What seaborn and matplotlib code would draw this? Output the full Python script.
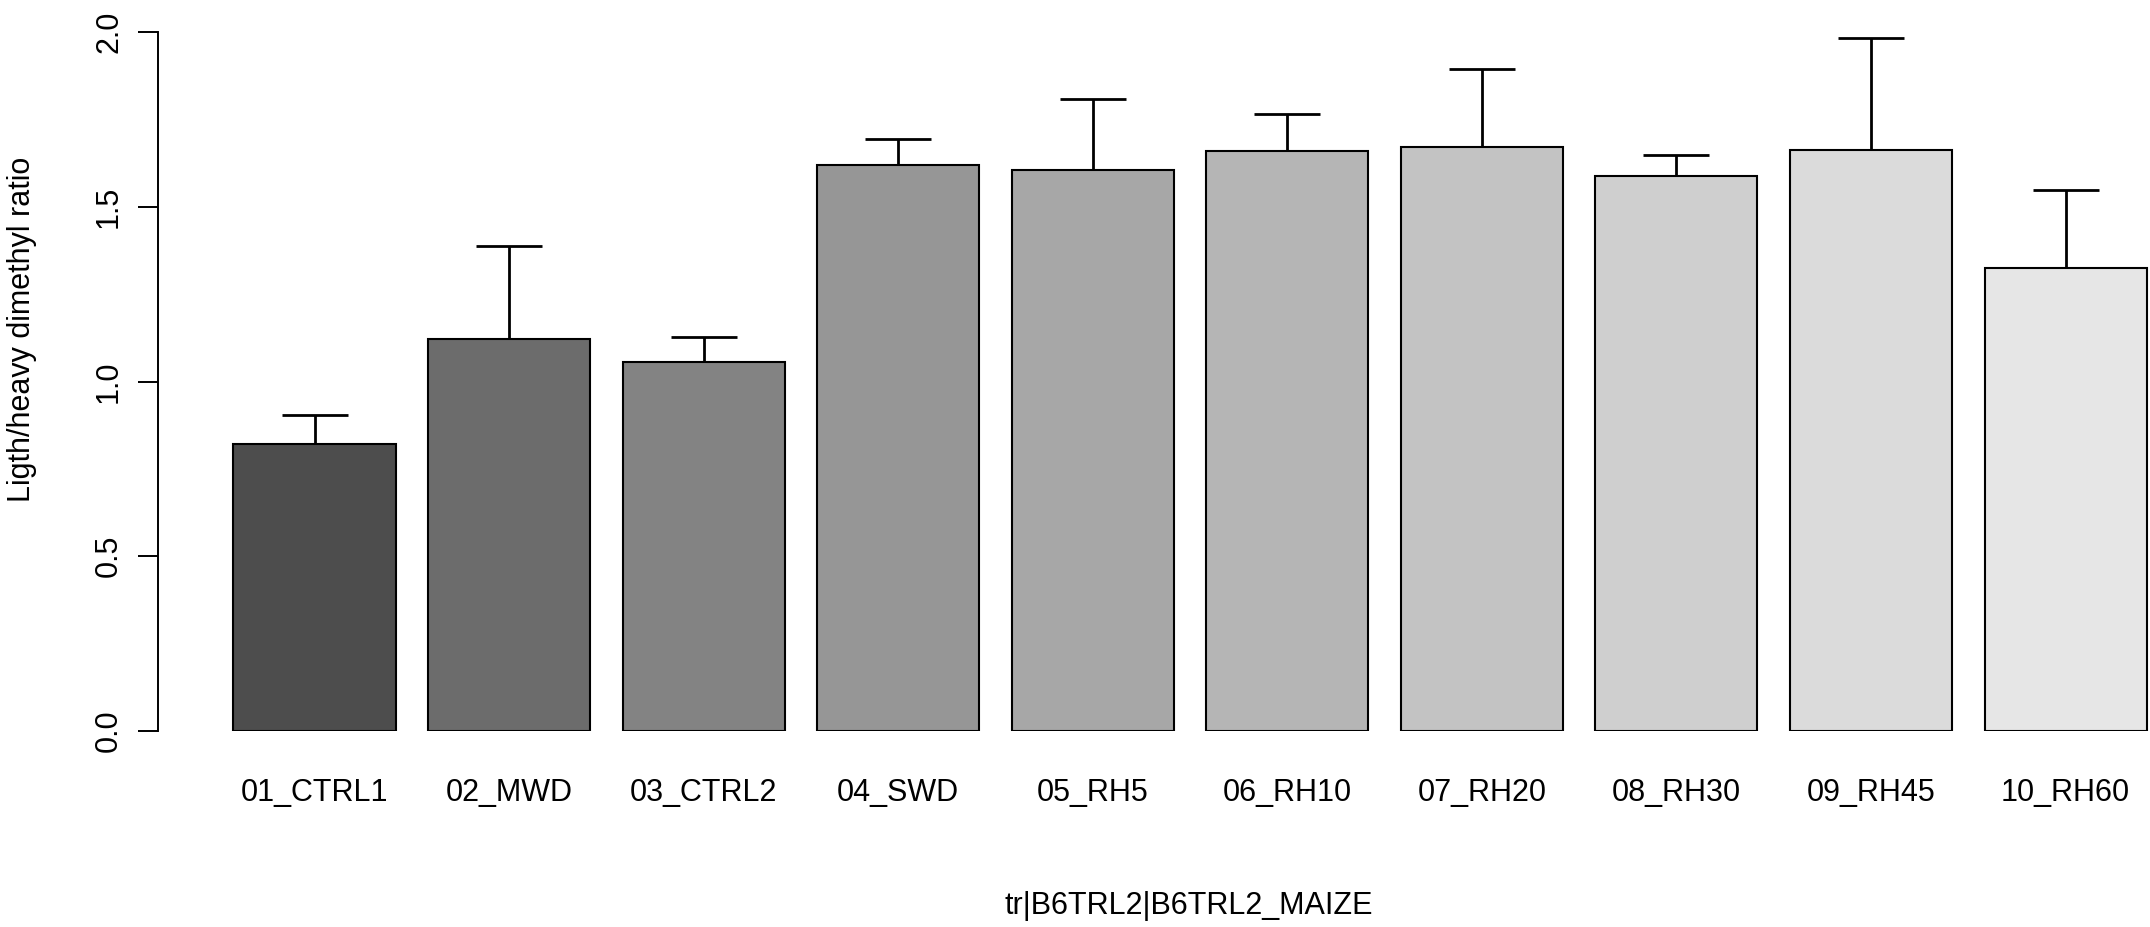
import numpy as np
import matplotlib
matplotlib.use("Agg")
import matplotlib.pyplot as plt
import seaborn as sns

# ===== DATA =====
groups = ["01_CTRL1", "02_MWD", "03_CTRL2", "04_SWD", "05_RH5",
          "06_RH10", "07_RH20", "08_RH30", "09_RH45", "10_RH60"]
ratio = [0.821, 1.122, 1.055, 1.619, 1.605, 1.660, 1.672, 1.588, 1.663, 1.325]
ratio_err = [0.083, 0.266, 0.073, 0.076, 0.203, 0.105, 0.222, 0.060, 0.321, 0.223]
yticks = [0.0, 0.5, 1.0, 1.5, 2.0]

# R gray.colors(10)
greys = ["#4D4D4D", "#6C6C6C", "#838383", "#969696", "#A7A7A7",
         "#B5B5B5", "#C3C3C3", "#CFCFCF", "#DBDBDB", "#E6E6E6"]

sns.set_theme(style="ticks")
plt.rcParams['font.family'] = ['Liberation Sans', 'DejaVu Sans']
plt.rcParams['text.color'] = 'black'

W, H = 2150, 927
fig = plt.figure(figsize=(W / 100, H / 100), dpi=100)
# axes placed in pixel terms: y-axis line at x=158, y=0 at 731, y=2 at 32
ax = fig.add_axes([158 / W, (H - 731) / H, (W - 158) / W, (731 - 32) / H])

sns.barplot(x=groups, y=ratio, hue=groups, palette=greys, legend=False,
            width=0.833, edgecolor="black", linewidth=1.5, saturation=1, ax=ax)

# upper-only error bars, like R's arrows(angle=90)
_, caps, _ = ax.errorbar(np.arange(len(groups)), ratio,
                         yerr=[np.zeros(len(ratio)), ratio_err],
                         fmt="none", ecolor="black", elinewidth=2.0,
                         capsize=24, capthick=2.0, zorder=5)
caps[0].set_visible(False)

ax.set_xlim(-0.8044, 9.434)
ax.set_ylim(0, 2)
ax.set_yticks(yticks)
ax.set_yticklabels([f"{v:.1f}" for v in yticks], rotation=90, va="center")

sns.despine(ax=ax, top=True, right=True, bottom=True)
ax.spines["left"].set_bounds(0, 2)
ax.spines["left"].set_linewidth(1.4)
ax.spines["left"].set_color("black")
ax.tick_params(axis="y", length=14.4, width=1.4, pad=10, labelsize=22,
               colors="black")
ax.tick_params(axis="x", length=0, pad=34, labelsize=22, colors="black")
ax.set_xlabel("")
ax.set_ylabel("")

fig.text(22 / W, 1 - 329 / H, "Ligth/heavy dimethyl ratio", rotation=90,
         ha="center", va="center", fontsize=22, color="black")
fig.text(1189 / W, 1 - 906 / H, "tr|B6TRL2|B6TRL2_MAIZE",
         ha="center", va="center", fontsize=22, color="black")

fig.savefig("out.png", dpi=100, facecolor="white")
